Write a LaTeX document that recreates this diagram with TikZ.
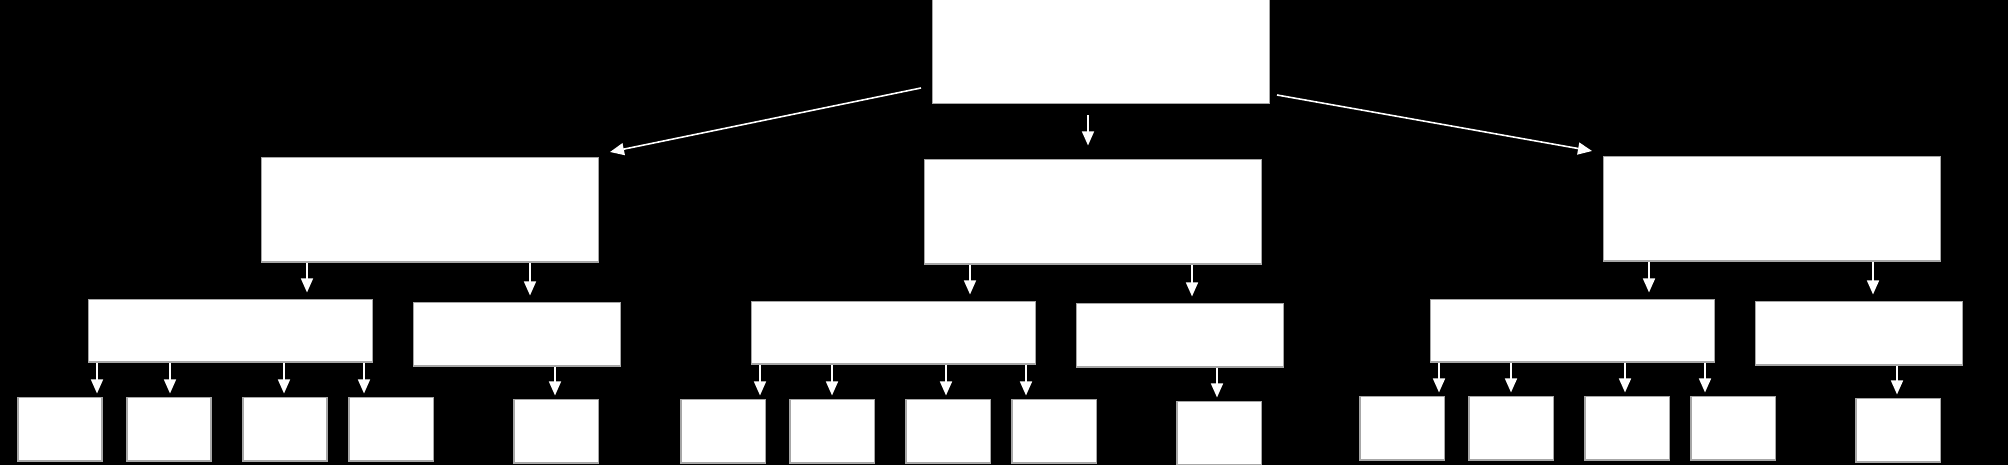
\documentclass[tikz,border=0pt]{standalone}
\usepackage{tikz}
\usetikzlibrary{arrows.meta}

\begin{document}
\begin{tikzpicture}[x=0.01cm, y=-0.01cm,
box/.style={draw=gray!70, fill=white, line width=0.3pt, inner sep=0pt},
top/.style={box, minimum width=3.36cm, minimum height=1.05cm},
big/.style={box, minimum width=3.36cm, minimum height=1.04cm},
mid/.style={box, minimum width=2.83cm, minimum height=0.62cm},
sml/.style={box, minimum width=2.06cm, minimum height=0.63cm},
leaf/.style={box, minimum width=0.84cm, minimum height=0.63cm},
arr/.style={draw=white, line width=0.45pt, -{Triangle[length=0.14cm, width=0.12cm, fill=white]}}]
\fill[black] (0,0) rectangle (2008,465);
\useasboundingbox (0,0) rectangle (2008,465);
% top and first level
\node[top] (root) at (1101,51) {};
\node[big] (L) at (430,210) {};
\node[big] (M) at (1093,212) {};
\node[big] (R) at (1772,209) {};
% second level
\node[mid] (LA) at (230.5,331) {};
\node[sml] (LB) at (517,334.5) {};
\node[mid] (MA) at (893.5,333) {};
\node[sml] (MB) at (1180,335.5) {};
\node[mid] (RA) at (1572.5,331) {};
\node[sml] (RB) at (1859,333.5) {};
% leaves
\foreach \n/\x/\y in {LA1/60/429.5, LA2/169/429.5, LA3/285/429.5, LA4/391/429.5, LB1/556/431.5,
    MA1/723/431.5, MA2/832/431.5, MA3/948/431.5, MA4/1054/431.5, MB1/1219/433.5,
    RA1/1402/428.5, RA2/1511/428.5, RA3/1627/428.5, RA4/1733/428.5, RB1/1898/430.5}
    \node[leaf] (\n) at (\x,\y) {};
% connectors
\coordinate (rl) at (921,88);
\coordinate (Lt) at (610,152);
\coordinate (rr) at (1277,95);
\coordinate (Rt) at (1592,151);
\draw[arr] (rl) -- (Lt);
\draw[arr] (rr) -- (Rt);
\draw[arr] ([yshift=-0.11cm]root.south -| 1088,0) -- ([yshift=0.14cm]M.north -| 1088,0);
\foreach \a/\b/\x in {L/LA/307, L/LB/530, M/MA/970, M/MB/1192, R/RA/1649, R/RB/1873}
    \draw[arr] (\a.south -| \x,0) -- ([yshift=0.07cm]\b.north -| \x,0);
\foreach \a/\b/\x in {LA/LA1/97, LA/LA2/170, LA/LA3/284, LA/LA4/364, LB/LB1/555,
    MA/MA1/760, MA/MA2/832, MA/MA3/946, MA/MA4/1026, MB/MB1/1217,
    RA/RA1/1439, RA/RA2/1511, RA/RA3/1625, RA/RA4/1705, RB/RB1/1897}
    \draw[arr] (\a.south -| \x,0) -- ([yshift=0.04cm]\b.north -| \x,0);
\end{tikzpicture}
\end{document}
